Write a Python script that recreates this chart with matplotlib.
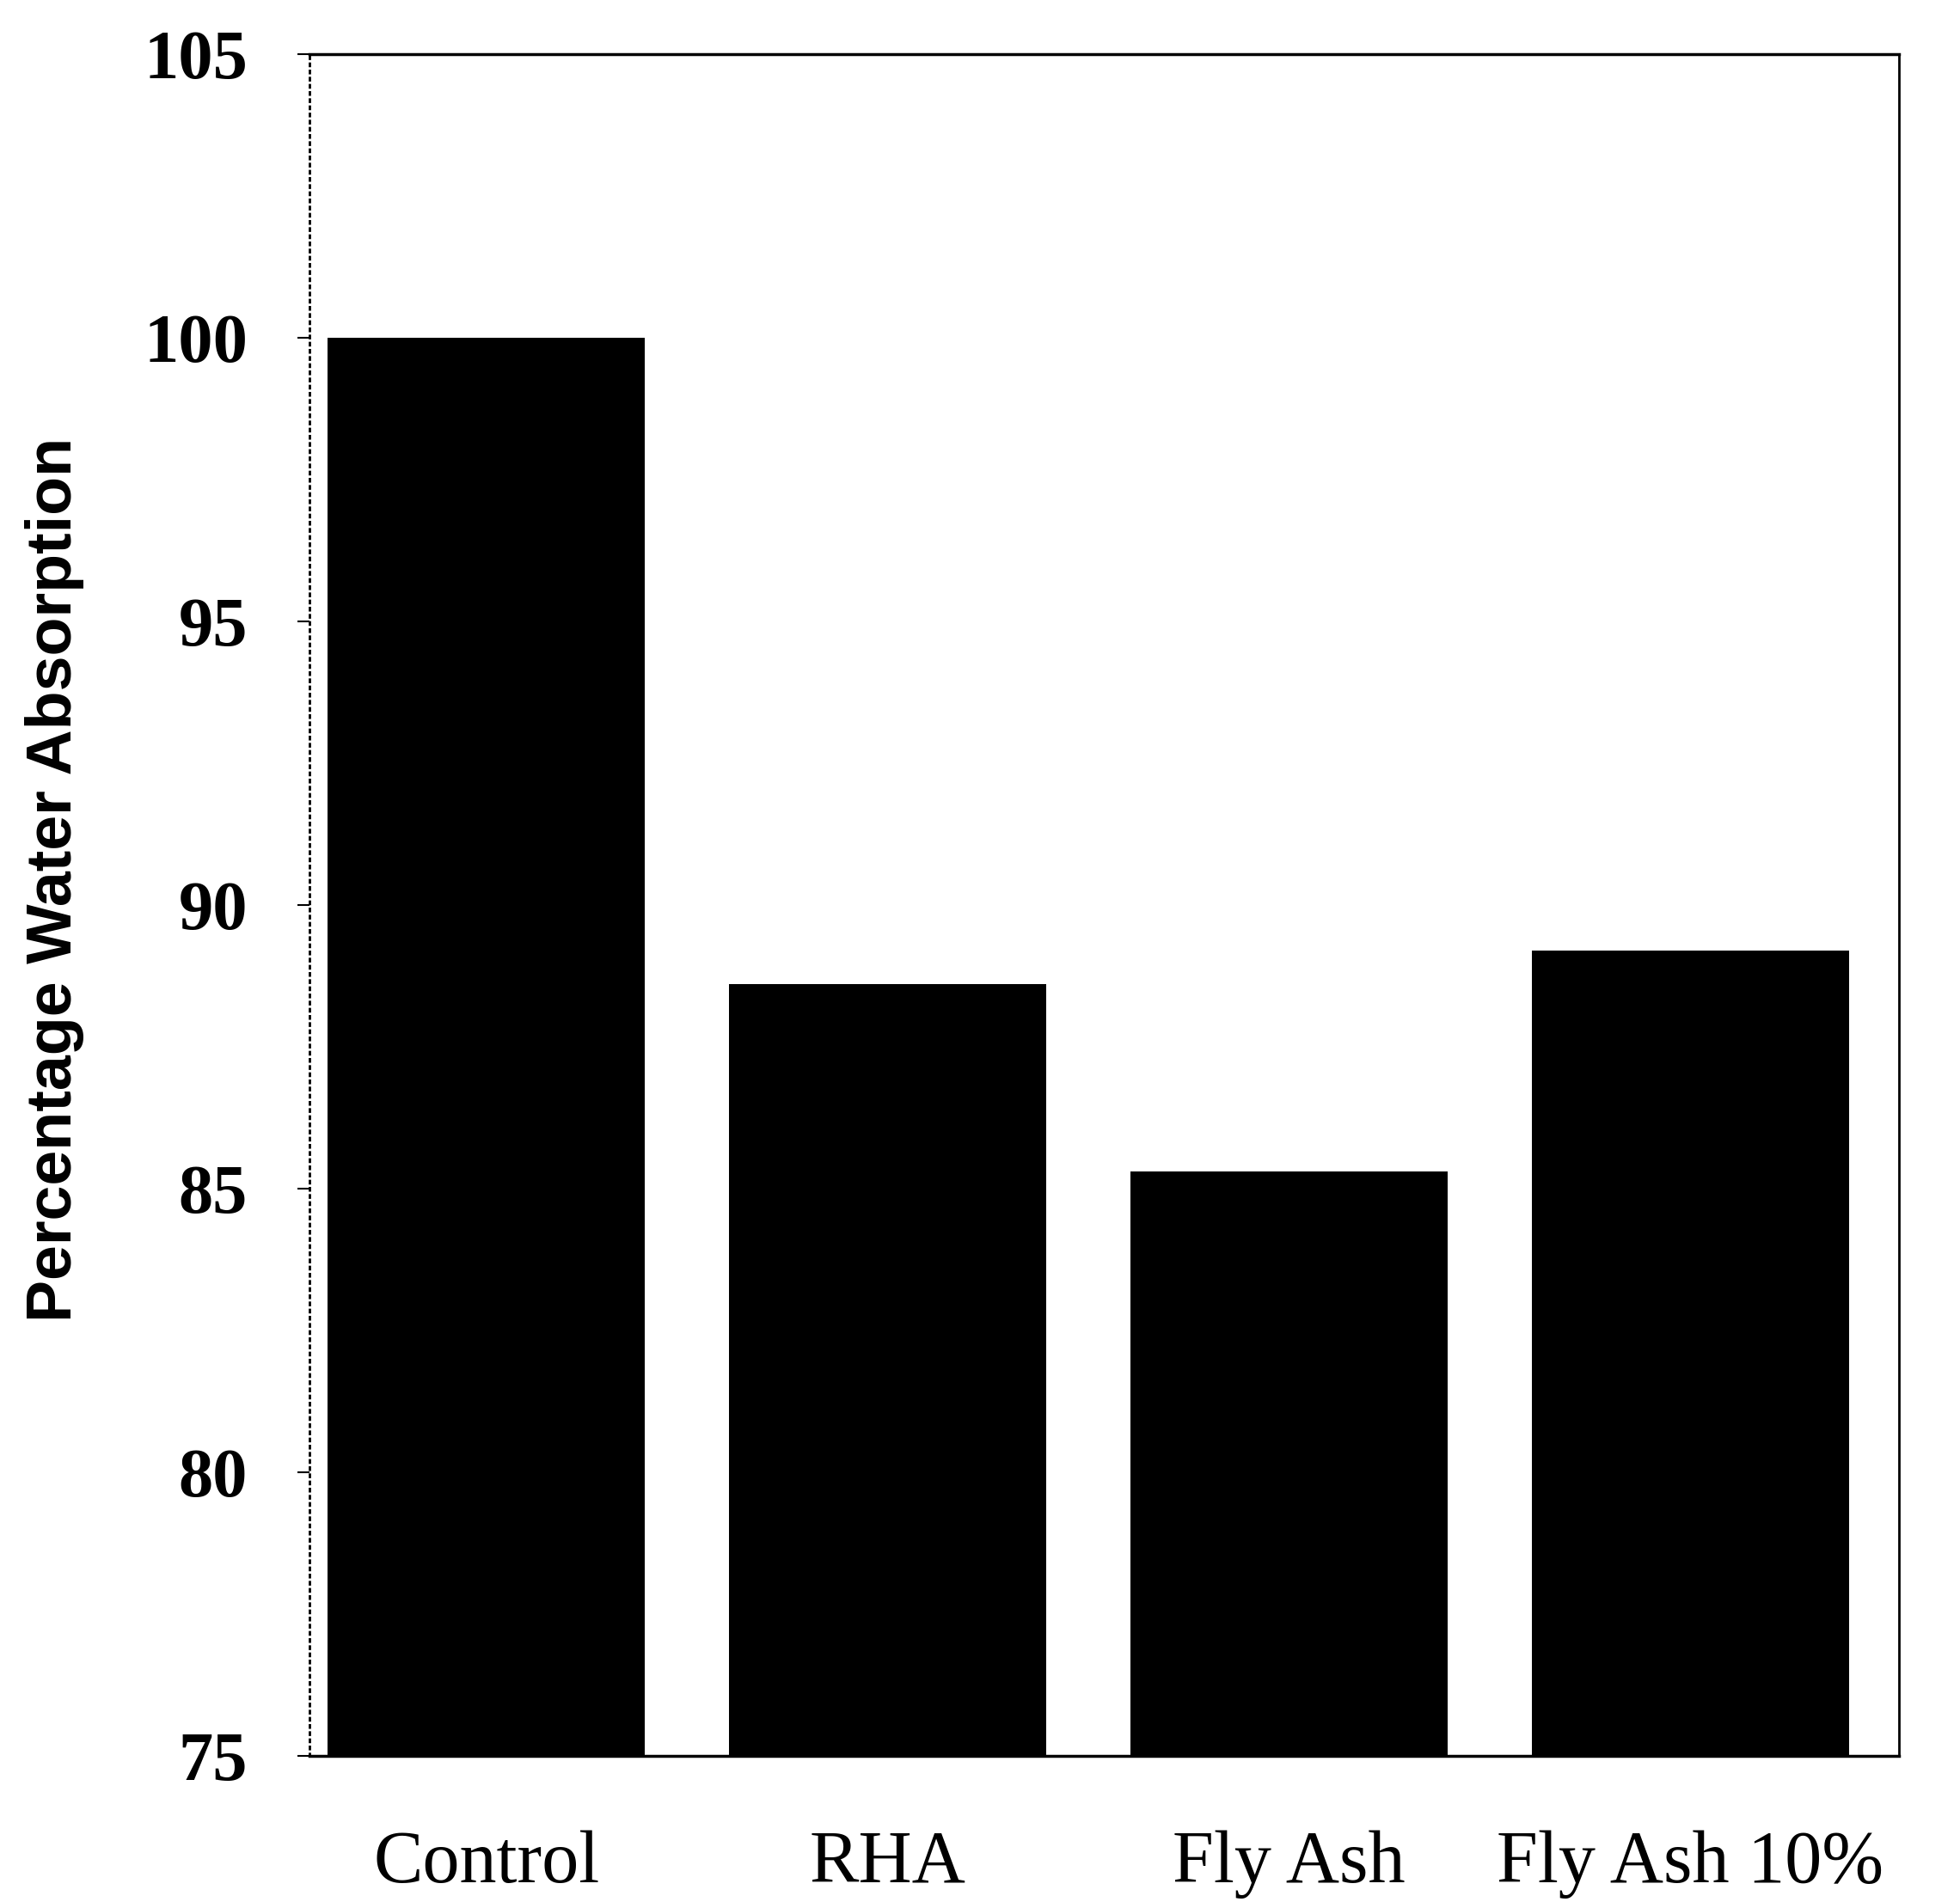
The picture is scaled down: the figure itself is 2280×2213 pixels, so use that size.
import matplotlib
matplotlib.use("Agg")
import matplotlib.pyplot as plt

categories = ["Control", "RHA", "Fly Ash", "Fly Ash 10%"]
values = [100.0, 88.6, 85.3, 89.2]
yticks = [75, 80, 85, 90, 95, 100, 105]

fig = plt.figure(figsize=(22.8, 22.13), dpi=100)
ax = fig.add_axes([0.158, 0.0768, 0.811, 0.8947])

x = list(range(len(categories)))
ax.bar(x, values, width=0.79, color="black", bottom=0)
ax.set_ylim(75, 105)
ax.set_xlim(-0.44, 3.52)

ax.set_yticks(yticks)
ax.set_yticklabels([str(t) for t in yticks], family="Liberation Serif",
                   fontweight="bold", fontsize=58)
ax.set_xticks(x)
ax.set_xticklabels(categories, family="Liberation Serif", fontsize=62)
ax.tick_params(axis="x", length=0, pad=62)
ax.tick_params(axis="y", length=10, width=1.5, direction="out", pad=42)

ax.spines["left"].set_linestyle((0, (1, 2)))
ax.spines["left"].set_linewidth(2)
ax.spines["top"].set_linewidth(2.5)
ax.spines["right"].set_linewidth(2)
ax.spines["bottom"].set_linewidth(2.5)

ax.set_ylabel("Percentage Water Absorption", family="Liberation Sans",
              fontweight="bold", fontsize=53)
ax.yaxis.set_label_coords(-0.142, 0.515)

fig.savefig("out.png", dpi=100, facecolor="white")
